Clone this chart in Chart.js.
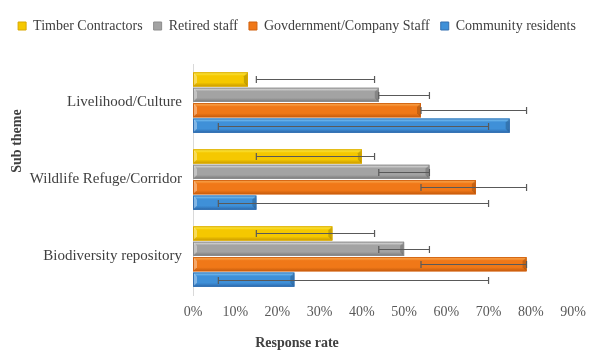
<!DOCTYPE html>
<html>
<head>
<meta charset="utf-8">
<script src="https://cdn.jsdelivr.net/npm/chart.js@4"></script>
<style>
html,body{margin:0;padding:0;background:#fff;}
#wrap{width:594px;height:359px;position:relative;}
</style>
</head>
<body>
<div id="wrap"><canvas id="c" width="594" height="359"></canvas></div>
<script>
const categories = ['Livelihood/Culture', 'Wildlife Refuge/Corridor', 'Biodiversity repository'];
const seriesNames = ['Timber Contractors', 'Retired staff', 'Govdernment/Company Staff', 'Community residents'];
const timber = [13, 40, 33];
const retired = [44, 56, 50];
const government = [54, 67, 79];
const community = [75, 15, 24];
const timberErrLow = [15, 15, 15];
const timberErrHigh = [43, 43, 43];
const retiredErrLow = [44, 44, 44];
const retiredErrHigh = [56, 56, 56];
const governmentErrLow = [54, 54, 54];
const governmentErrHigh = [79, 79, 79];
const communityErrLow = [6, 6, 6];
const communityErrHigh = [70, 70, 70];
const xTickValues = [0, 10, 20, 30, 40, 50, 60, 70, 80, 90];
const xTitle = 'Response rate';
const yTitle = 'Sub theme';

const palette = [
  {fill:'#F5C800', light:'#FFF45A', dark:'#C99A00', border:'#D9A800'},
  {fill:'#A3A3A3', light:'#EDEDED', dark:'#787878', border:'#8C8C8C'},
  {fill:'#F07818', light:'#FFB860', dark:'#C45A0C', border:'#D0610F'},
  {fill:'#3F90D8', light:'#93D6FC', dark:'#2C6AAE', border:'#336FB0'}
];

const errors = [
  [timberErrLow, timberErrHigh],
  [retiredErrLow, retiredErrHigh],
  [governmentErrLow, governmentErrHigh],
  [communityErrLow, communityErrHigh]
];

const serif = "'Liberation Serif', 'Times New Roman', serif";

const bevelPlugin = {
  id: 'bevel',
  beforeInit(chart) {
    const lg = chart.legend;
    if (lg && !lg._patched) {
      const origFit = lg.fit;
      lg.fit = function() { origFit.call(this); this.height += 21; };
      lg._patched = true;
    }
  },
  afterDatasetsDraw(chart) {
    const ctx = chart.ctx;
    chart.data.datasets.forEach((ds, di) => {
      const meta = chart.getDatasetMeta(di);
      const p = palette[di];
      meta.data.forEach(el => {
        const {x, y, base, height} = el.getProps(['x','y','base','height'], true);
        const top = y - height/2, bot = y + height/2;
        const g = ctx.createLinearGradient(0, top, 0, bot);
        g.addColorStop(0, p.light);
        g.addColorStop(0.25, p.fill);
        g.addColorStop(0.72, p.fill);
        g.addColorStop(1, p.dark);
        ctx.save();
        ctx.fillStyle = g;
        ctx.fillRect(base, top, x - base, height);
        ctx.fillStyle = 'rgba(255,255,255,0.35)';
        ctx.beginPath();
        ctx.moveTo(base, top); ctx.lineTo(base+4, top+4); ctx.lineTo(base+4, bot-4); ctx.lineTo(base, bot); ctx.closePath();
        ctx.fill();
        ctx.fillStyle = 'rgba(0,0,0,0.18)';
        ctx.beginPath();
        ctx.moveTo(x, top); ctx.lineTo(x-4, top+4); ctx.lineTo(x-4, bot-4); ctx.lineTo(x, bot); ctx.closePath();
        ctx.fill();
        ctx.strokeStyle = p.border;
        ctx.lineWidth = 1;
        ctx.strokeRect(base + 0.5, top + 0.5, x - base - 1, height - 1);
        ctx.restore();
      });
    });
    const xs = chart.scales.x;
    ctx.save();
    ctx.strokeStyle = '#595959';
    ctx.lineWidth = 1.2;
    chart.data.datasets.forEach((ds, di) => {
      const meta = chart.getDatasetMeta(di);
      meta.data.forEach((el, i) => {
        const y = Math.round(el.y) + 0.5;
        const x1 = xs.getPixelForValue(errors[di][0][i]);
        const x2 = xs.getPixelForValue(errors[di][1][i]);
        ctx.beginPath();
        ctx.moveTo(x1, y); ctx.lineTo(x2, y);
        ctx.moveTo(x1, y - 3.5); ctx.lineTo(x1, y + 3.5);
        ctx.moveTo(x2, y - 3.5); ctx.lineTo(x2, y + 3.5);
        ctx.stroke();
      });
    });
    ctx.restore();
  },
  afterDraw(chart) {
    const ctx = chart.ctx;
    ctx.save();
    ctx.fillStyle = '#404040';
    ctx.font = 'bold 14px ' + serif;
    ctx.textAlign = 'center';
    ctx.textBaseline = 'middle';
    ctx.fillText(xTitle, 297, 343);
    ctx.translate(17, 141);
    ctx.rotate(-Math.PI/2);
    ctx.fillText(yTitle, 0, 0);
    ctx.restore();
  }
};

new Chart(document.getElementById('c'), {
  type: 'bar',
  data: {
    labels: categories,
    datasets: [timber, retired, government, community].map((d, i) => ({
      label: seriesNames[i],
      data: d,
      backgroundColor: palette[i].fill,
      borderColor: palette[i].border,
      borderWidth: 0,
      categoryPercentage: 0.8,
      barPercentage: 0.92
    }))
  },
  options: {
    indexAxis: 'y',
    responsive: false,
    animation: false,
    devicePixelRatio: 1,
    layout: {padding: {top: 8, right: 0, bottom: 0, left: 0}},
    plugins: {
      legend: {
        position: 'top',
        labels: {
          boxWidth: 8, boxHeight: 8,
          padding: 11,
          color: '#404040',
          font: {family: serif, size: 14},
          generateLabels(chart) {
            return chart.data.datasets.map((ds, i) => ({
              text: ds.label,
              fillStyle: palette[i].fill,
              strokeStyle: palette[i].border,
              lineWidth: 1,
              datasetIndex: i,
              hidden: false,
              fontColor: '#404040'
            }));
          }
        }
      },
      tooltip: {enabled: false}
    },
    scales: {
      x: {
        min: 0, max: 90,
        afterBuildTicks(scale) { scale.ticks = xTickValues.map(v => ({value: v})); },
        ticks: {
          callback: v => v + '%',
          color: '#595959',
          font: {family: serif, size: 14},
          padding: 9,
          maxRotation: 0
        },
        grid: {display: false, drawTicks: false},
        border: {display: false},
        afterFit(scale) { scale.height = 64; scale.paddingLeft = 0; scale.paddingRight = 21; }
      },
      y: {
        ticks: {
          color: '#404040',
          font: {family: serif, size: 15},
          padding: 11
        },
        grid: {display: false, drawTicks: false},
        border: {display: true, color: '#D9D9D9', width: 1},
        afterFit(scale) { scale.width = 193; }
      }
    }
  },
  plugins: [bevelPlugin]
});
</script>
</body>
</html>
